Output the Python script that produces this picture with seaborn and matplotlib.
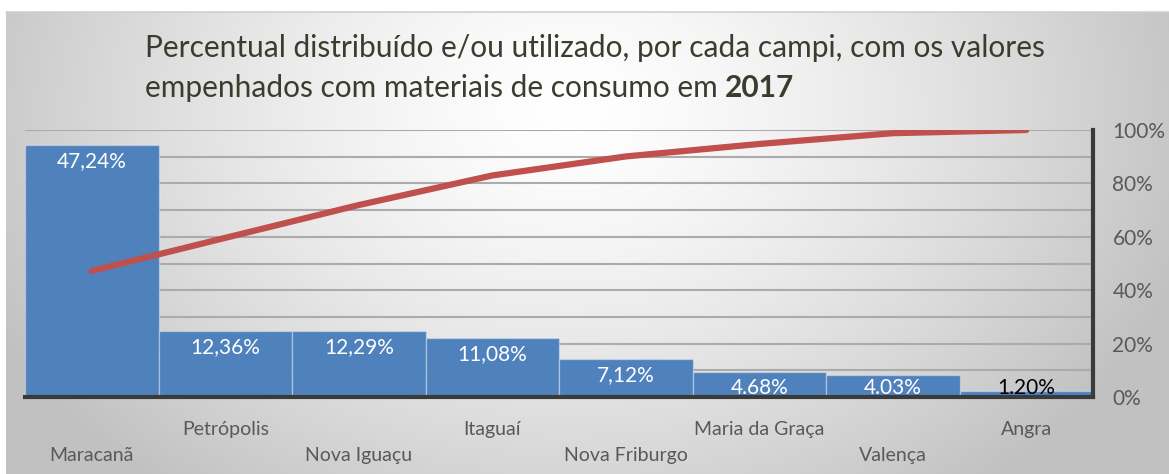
import numpy as np
import pandas as pd
import matplotlib
matplotlib.use("Agg")
import matplotlib.pyplot as plt
import seaborn as sns
from matplotlib.ticker import FuncFormatter

# ---- data ----
campi = ["Maracanã", "Petrópolis", "Nova Iguaçu", "Itaguaí",
         "Nova Friburgo", "Maria da Graça", "Valença", "Angra"]
percentual = [47.24, 12.36, 12.29, 11.08, 7.12, 4.68, 4.03, 1.20]
rotulos = ["47,24%", "12,36%", "12,29%", "11,08%", "7,12%", "4.68%", "4.03%", "1.20%"]
acumulado = list(np.round(np.cumsum(percentual), 2))
right_ticks = [0, 20, 40, 60, 80, 100]
title_l1 = "Percentual distribuído e/ou utilizado, por cada campi, com os valores"
title_l2 = "empenhados com materiais de consumo em "
title_bold = "2017"

sns.set_theme(style="white")
plt.rcParams["font.family"] = ["Lato", "DejaVu Sans"]

W, H = 1169, 474
fig = plt.figure(figsize=(W / 100, H / 100), dpi=100)

# ---- background gradient panel ----
bg = fig.add_axes([0, 0, 1, 1], zorder=0)
yy, xx = np.mgrid[0:H, 0:W]
r = np.sqrt(((xx - 570) / 640.0) ** 2 + ((yy - 110) / 480.0) ** 2)
val = 1 - 0.24 * np.clip(r, 0, 1) ** 1.4
val[:12, :] = 1.0
val[:, :6] = 1.0
img = np.dstack([val, val, val])
bg.imshow(img, extent=[0, W, H, 0], aspect="auto", interpolation="bilinear")
bg.plot([6, W], [12, 12], color="#D0D0D0", lw=1.2)
bg.set_xlim(0, W)
bg.set_ylim(H, 0)
bg.axis("off")

# ---- main axes ----
x0, x1, ybot, ytop = 25, 1093, 397, 130
ax = fig.add_axes([x0 / W, 1 - ybot / H, (x1 - x0) / W, (ybot - ytop) / H], zorder=1)
ax.patch.set_alpha(0)

df = pd.DataFrame({"campus": campi, "pct": percentual})
sns.barplot(data=df, x="campus", y="pct", color="#4F81BD", saturation=1,
            width=1.0, edgecolor=(1, 1, 1, 0.35), linewidth=1, ax=ax, zorder=2)
ax.set_xlim(-0.5, len(campi) - 0.5)
ax.set_ylim(0, 50)
ax.set_yticks(np.arange(0, 51, 5))
ax.set_axisbelow(True)
ax.yaxis.grid(True, color="#ABABAB", lw=1.5)
ax.set_xlabel("")
ax.set_ylabel("")
for s in ["left", "top", "right"]:
    ax.spines[s].set_visible(False)
ax.spines["bottom"].set_color("#3A3A3A")
ax.spines["bottom"].set_linewidth(3)
ax.spines["bottom"].set_zorder(5)

# staggered category labels
labels = [("\n" + c) if i % 2 == 0 else c for i, c in enumerate(campi)]
ax.set_xticks(range(len(campi)))
ax.set_xticklabels(labels, fontsize=14, color="#595959", linespacing=1.7)
ax.tick_params(axis="x", length=0, pad=17)

# bar value labels
for i, (v, t) in enumerate(zip(percentual, rotulos)):
    yl = max(v - 3.0, 1.7)
    col = "white" if yl < v else "black"
    ax.text(i, yl, t, ha="center", va="center", fontsize=15, color=col, zorder=6)

# ---- cumulative line ----
ax2 = ax.twinx()
sns.lineplot(x=np.arange(len(campi)), y=acumulado, ax=ax2, color="#C0504D",
             lw=4.5, solid_capstyle="round")
ax2.set_ylim(0, 100)
ax2.set_yticks(right_ticks)
ax2.yaxis.set_major_formatter(FuncFormatter(lambda v, p: f"{int(v)}%"))
ax2.tick_params(axis="y", length=0, pad=14, labelsize=15, labelcolor="#595959")
for s in ["left", "top", "bottom"]:
    ax2.spines[s].set_visible(False)
ax2.spines["right"].set_color("#3A3A3A")
ax2.spines["right"].set_linewidth(3)
ax2.set_ylabel("")
# twinx re-enables left ticks on the host axes; hide them
ax.tick_params(axis="y", left=False, right=False, labelleft=False, labelright=False)

# ---- title ----
tcol = "#3B3B2E"
fs_t = 21.5
fig.text(145 / W, 1 - 48 / H, title_l1, fontsize=fs_t, color=tcol, va="center", ha="left")
t2 = fig.text(145 / W, 1 - 88 / H, title_l2, fontsize=fs_t, color=tcol, va="center", ha="left")
fig.canvas.draw()
bb = t2.get_window_extent(renderer=fig.canvas.get_renderer())
fig.text(bb.x1 / W, 1 - 88 / H, title_bold, fontsize=fs_t, color=tcol, va="center",
         ha="left", fontweight="bold")

fig.savefig("out.png", dpi=100)
